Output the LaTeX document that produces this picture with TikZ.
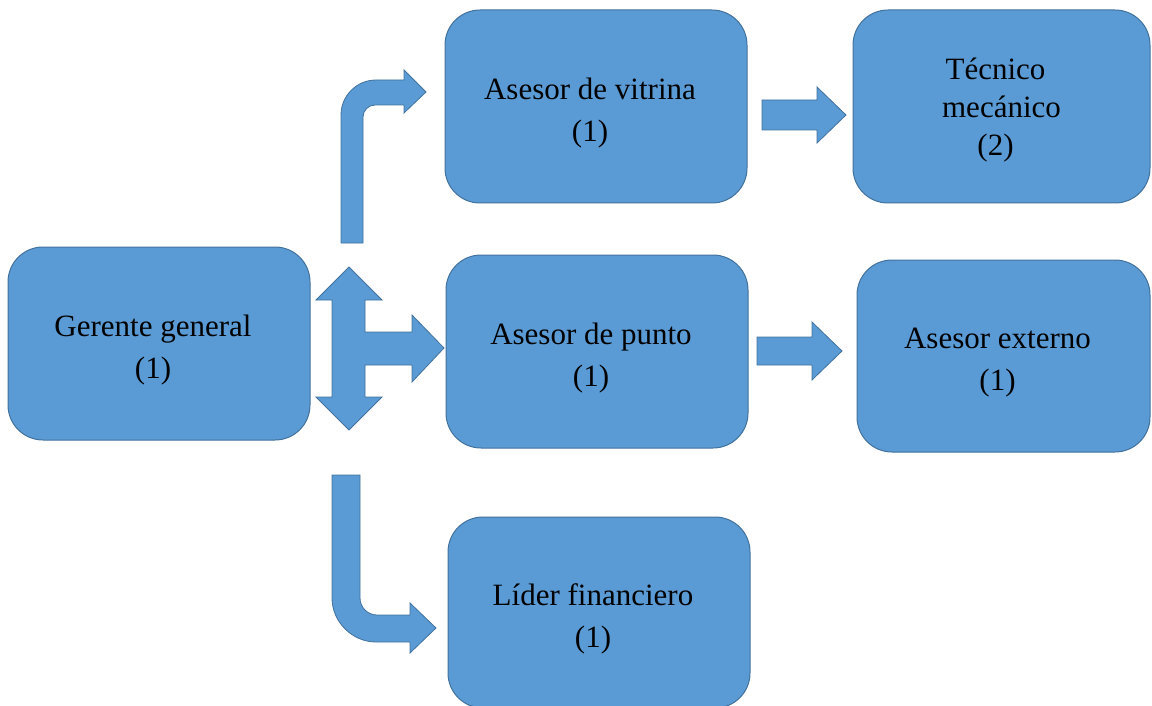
\documentclass[tikz,border=0pt]{standalone}
\usepackage{fontspec}
\setmainfont{Liberation Serif}
\definecolor{boxfill}{HTML}{5B9BD5}
\definecolor{boxline}{HTML}{41719C}
\newcommand{\Ln}[1]{#1\hspace*{12pt}}
\newcommand{\Top}{\rule{0pt}{34pt}}
\begin{document}
\begin{tikzpicture}[x=1pt,y=-1pt,
  orgbox/.style={draw=boxline,line width=1pt,fill=boxfill,rounded corners=35pt,
    minimum width=#1,minimum height=193pt,inner sep=0pt,align=center,
    font=\fontsize{31}{42}\selectfont},
  orgbox/.default=302pt,
  blockarrow/.style={draw=boxline,line width=0.8pt,fill=boxfill,line join=miter}]
\useasboundingbox (0,0) rectangle (1152,706);

\node[orgbox] (gg) at (159,343.5) {\Top\Ln{Gerente general}\\\Ln{(1)}};
\node[orgbox] (av) at (596,106.5) {\Top\Ln{Asesor de vitrina}\\\Ln{(1)}};
\node[orgbox=297pt,font=\fontsize{31}{38}\selectfont] (tm) at (1001.5,106.5) {\rule{0pt}{29pt}\Ln{Técnico}\\\Ln{mecánico}\\\Ln{(2)}};
\node[orgbox] (ap) at (597,351.5) {\Top\Ln{Asesor de punto}\\\Ln{(1)}};
\node[orgbox=293pt,minimum height=192pt] (ae) at (1003.5,356) {\Top\Ln{Asesor externo}\\\Ln{(1)}};
\node[orgbox,minimum height=191pt] (lf) at (599,612.5) {\Top\Ln{Líder financiero}\\\Ln{(1)}};

% bent arrow up to Asesor de vitrina
\draw[blockarrow] (341,243) -- (341,115) .. controls (341,95.7) and (356.7,80) .. (376,80)
  -- (404,80) -- (404,70) -- (426,92) -- (404,113) -- (404,105) -- (375,105)
  .. controls (368.4,105) and (363,110.4) .. (363,117) -- (363,243) -- cycle;

% double vertical arrow with right branch to Asesor de punto
\draw[blockarrow] (349,267) -- (382,300) -- (365,300) -- (365,332) -- (412,332) -- (412,315)
  -- (444,348) -- (412,382) -- (412,365) -- (365,365) -- (365,397) -- (382,397)
  -- (349,430) -- (316,397) -- (332,397) -- (332,300) -- (316,300) -- cycle;

% bent arrow down to Lider financiero
\draw[blockarrow] (332,475) -- (332,598) .. controls (332,621.8) and (352.2,642) .. (376,642)
  -- (410,642) -- (410,653) -- (436,628) -- (410,603) -- (410,615) -- (377,615)
  .. controls (367.6,615) and (360,607.4) .. (360,598) -- (360,475) -- cycle;

% straight arrows
\draw[blockarrow] (762,100) -- (817,100) -- (817,87) -- (846,115) -- (817,143) -- (817,130) -- (762,130) -- cycle;
\draw[blockarrow] (757,337) -- (812,337) -- (812,322) -- (842,351) -- (812,380) -- (812,365) -- (757,365) -- cycle;
\end{tikzpicture}
\end{document}
